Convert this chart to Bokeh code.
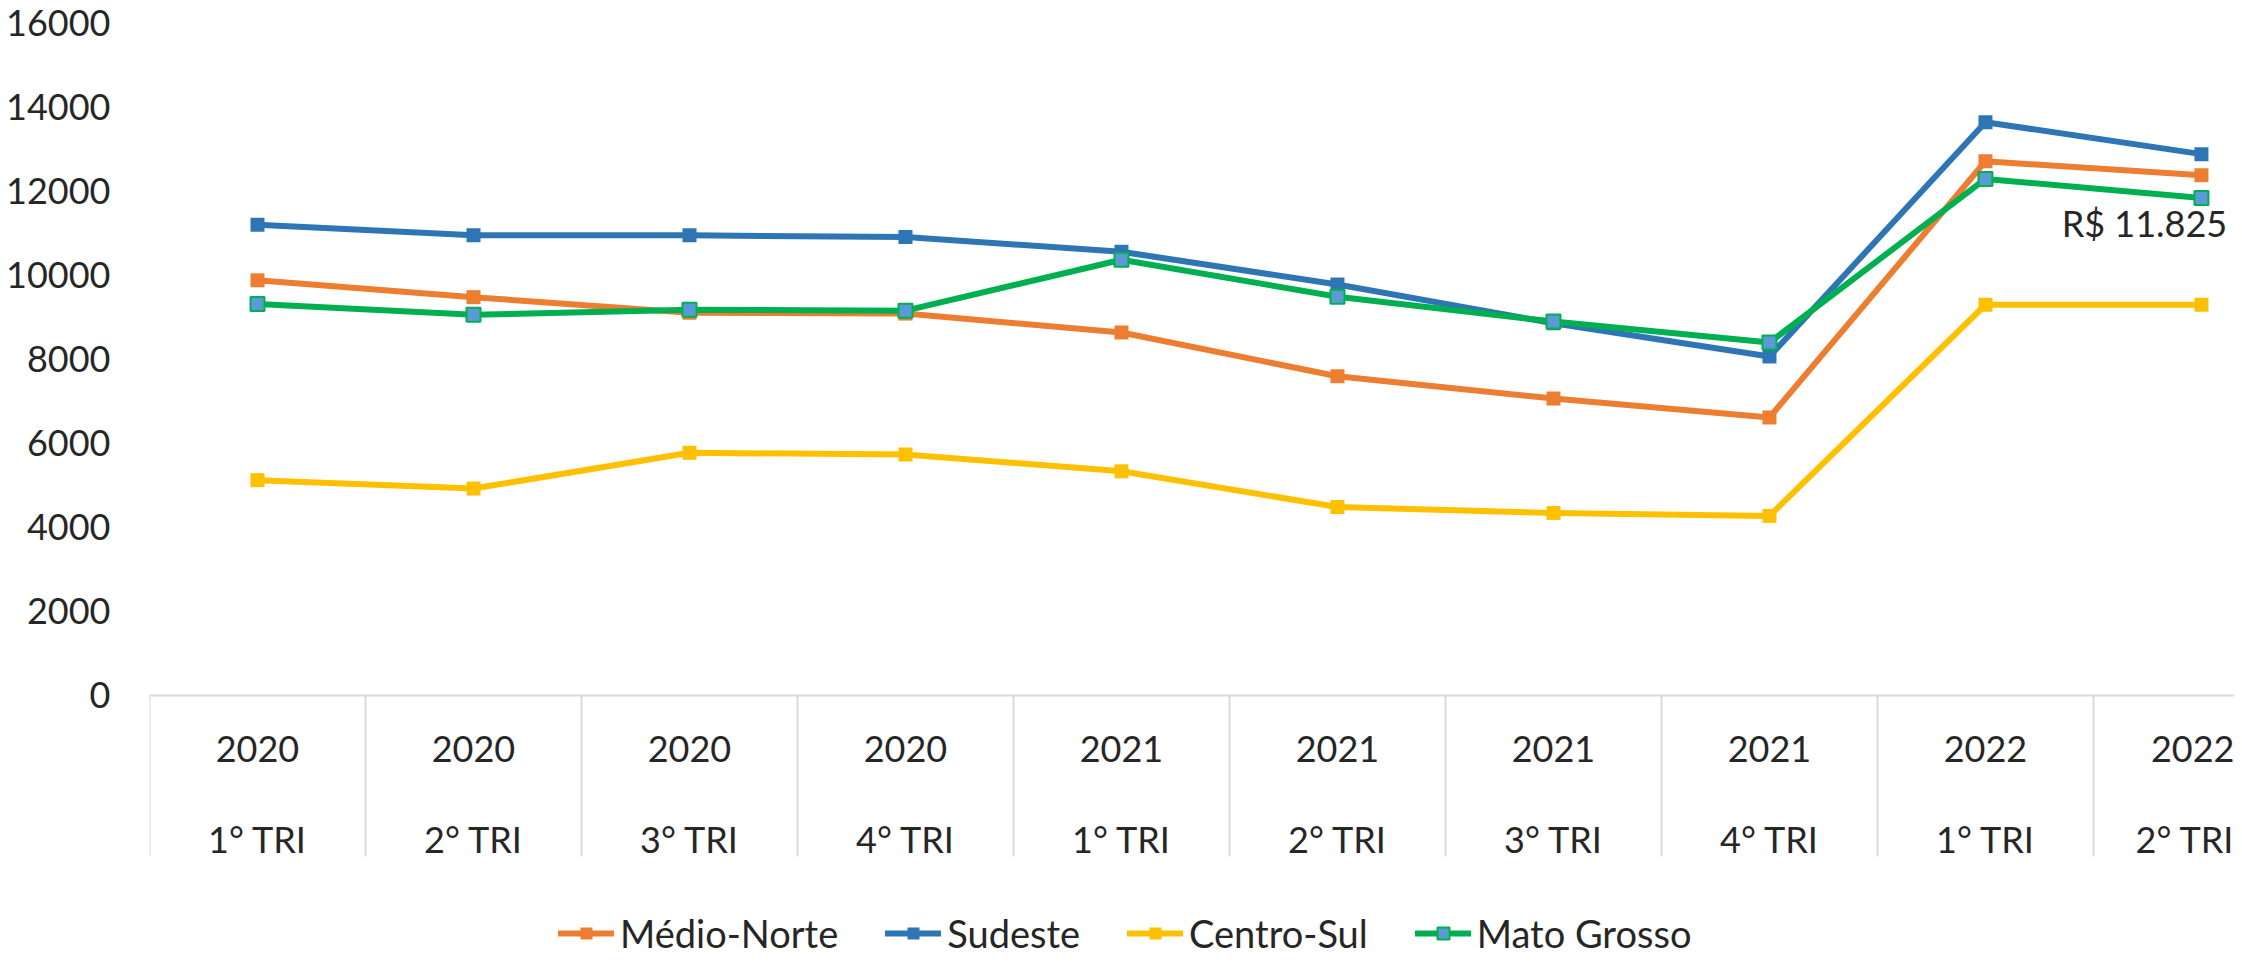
from bokeh.plotting import figure
from bokeh.models import (FixedTicker, LinearAxis, Range1d, Legend, LegendItem,
                          ColumnDataSource)
from bokeh.core.properties import value
from bokeh.embed import file_html
from bokeh.resources import INLINE

# ---- data ----
years = ["2020", "2020", "2020", "2020", "2021", "2021", "2021", "2021", "2022", "2022"]
quarters = ["1° TRI", "2° TRI", "3° TRI", "4° TRI", "1° TRI", "2° TRI", "3° TRI", "4° TRI", "1° TRI", "2° TRI"]
medio_norte = [9870, 9470, 9100, 9080, 8630, 7590, 7060, 6610, 12700, 12370]
sudeste = [11190, 10940, 10940, 10900, 10550, 9770, 8850, 8060, 13630, 12870]
centro_sul = [5120, 4920, 5770, 5730, 5330, 4480, 4340, 4270, 9290, 9290]
mato_grosso = [9310, 9050, 9170, 9150, 10360, 9480, 8890, 8390, 12280, 11825]
y_ticks = [0, 2000, 4000, 6000, 8000, 10000, 12000, 14000, 16000]

FONT = "Lato"
TXT = "#262626"
idx = list(range(len(years)))

# frame spans the whole height; the category band sits below y=0
p = figure(width=2234, height=957, output_backend="svg", toolbar_location=None,
           x_range=Range1d(-0.5, 9.153), y_range=Range1d(-6229, 16000),
           x_axis_location=None,
           min_border_left=149, min_border_right=0, min_border_top=22, min_border_bottom=0)
p.outline_line_color = None
p.xgrid.visible = False
p.ygrid.visible = False
p.background_fill_color = "white"
p.border_fill_color = "white"

# y axis
ya = p.yaxis[0]
ya.ticker = FixedTicker(ticks=y_ticks)
ya.axis_line_color = None
ya.major_tick_line_color = None
ya.minor_tick_line_color = None
ya.major_tick_out = 0
ya.major_tick_in = 0
ya.minor_tick_out = 0
ya.major_label_standoff = 39
ya.major_label_text_font = FONT
ya.major_label_text_font_size = "36px"
ya.major_label_text_color = TXT


def cat_axis(labels, standoff):
    ax = LinearAxis(fixed_location=0, ticker=FixedTicker(ticks=idx),
                    major_label_overrides={i: labels[i] for i in idx})
    ax.axis_line_color = None
    ax.major_tick_line_color = None
    ax.minor_tick_line_color = None
    ax.major_tick_out = 0
    ax.major_tick_in = 0
    ax.minor_tick_out = 0
    ax.minor_tick_in = 0
    ax.major_label_standoff = standoff
    ax.major_label_text_font = FONT
    ax.major_label_text_font_size = "36px"
    ax.major_label_text_color = TXT
    return ax


# separator axis: base line at y = 0 and category dividers
sep = LinearAxis(fixed_location=0,
                 ticker=FixedTicker(ticks=[], minor_ticks=[i - 0.5 for i in range(len(idx) + 1)]))
sep.axis_line_color = "#D9D9D9"
sep.axis_line_width = 2
sep.major_tick_line_color = None
sep.major_label_text_alpha = 0
sep.minor_tick_line_color = "#D9D9D9"
sep.minor_tick_line_width = 2
sep.minor_tick_in = 0
sep.minor_tick_out = 161
p.add_layout(sep, "below")
p.add_layout(cat_axis(years, 41), "below")
p.add_layout(cat_axis(quarters, 122), "below")

series = [
    ("Médio-Norte", medio_norte, "#ED7D31", "#ED7D31", "#ED7D31"),
    ("Sudeste", sudeste, "#2E75B6", "#2E75B6", "#2E75B6"),
    ("Centro-Sul", centro_sul, "#FFC000", "#FFC000", "#FFC000"),
    ("Mato Grosso", mato_grosso, "#00B050", "#5B9BD5", "#00B050"),
]
items = []
for name, vals, lc, mf, ml in series:
    src = ColumnDataSource(dict(x=idx, y=vals))
    r1 = p.line("x", "y", source=src, line_color=lc, line_width=6, line_join="round", line_cap="round")
    r2 = p.scatter("x", "y", source=src, marker="square", size=14, fill_color=mf,
                   line_color=ml, line_width=2 if mf != ml else 0)
    items.append(LegendItem(label=name, renderers=[r1, r2]))

# data label for last Mato Grosso value
last = len(idx) - 1
lbl = ColumnDataSource(dict(x=[idx[last]], y=[mato_grosso[last]],
                            t=["R$ " + f"{mato_grosso[last]:,}".replace(",", ".")]))
p.text("x", "y", text="t", source=lbl, text_font=value(FONT), text_font_size="36px",
       text_color=TXT, text_align="center", text_baseline="middle", x_offset=-57, y_offset=25)

legend = Legend(items=items, orientation="horizontal", location=(409, 1),
                label_text_font=FONT, label_text_font_size="38px", label_text_color=TXT,
                glyph_width=56, glyph_height=30, label_height=30, label_standoff=6, spacing=47,
                padding=0, margin=0, border_line_color=None, background_fill_alpha=0)
p.add_layout(legend, "center")

open("out.html", "w").write(file_html(p, INLINE))
